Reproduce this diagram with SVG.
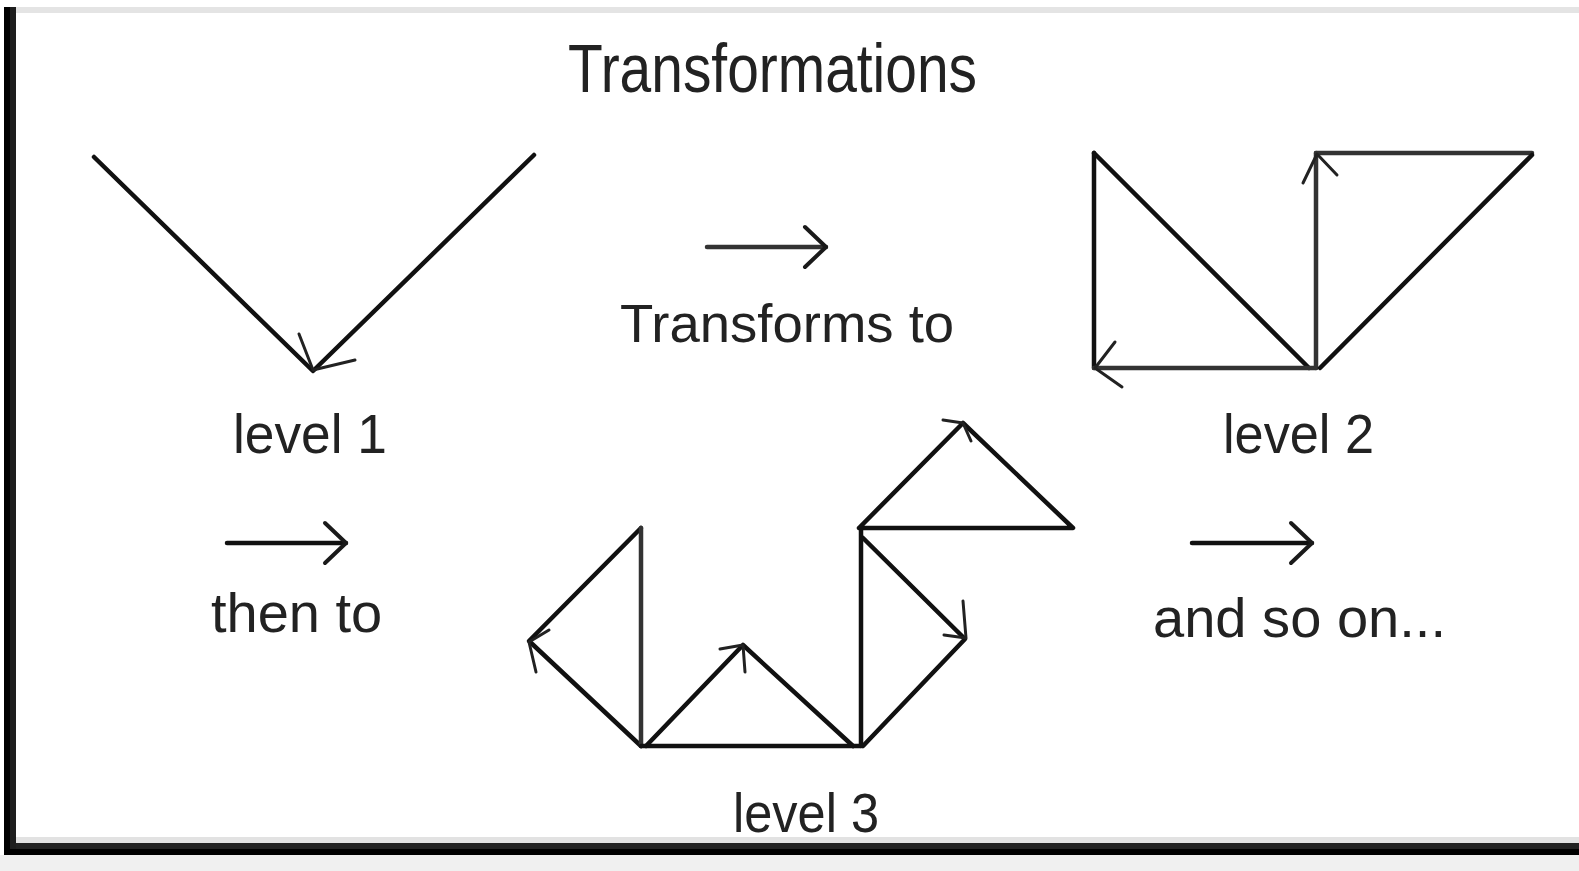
<svg xmlns="http://www.w3.org/2000/svg" width="1579" height="871" viewBox="0 0 1579 871">
  <style>
    .edge { fill: none; stroke: #111; stroke-width: 4.5; stroke-linecap: round; stroke-linejoin: round; }
    .soft { stroke: #333; }
    .head { fill: none; stroke: #222; stroke-width: 3; stroke-linecap: round; stroke-linejoin: round; }
    .label { font-family: "Liberation Sans", Arial, sans-serif; fill: #222; }
    .title { font-size: 68px; }
    .caption { font-size: 55px; }
  </style>
  <defs>
    <marker id="chevron" markerUnits="userSpaceOnUse" markerWidth="30" markerHeight="46" refX="24" refY="23" orient="auto" viewBox="0 0 30 46">
      <path d="M3,3 L24,23 L3,43" fill="none" stroke="#1a1a1a" stroke-width="4" stroke-linecap="round" stroke-linejoin="round"/>
    </marker>
  </defs>

  <!-- page and frame -->
  <g id="frame">
    <rect x="0" y="0" width="1579" height="871" fill="#ffffff"/>
    <rect x="0" y="855" width="1579" height="16" fill="#f0f0f0"/>
    <rect x="16" y="7" width="1563" height="6" fill="#e4e4e4"/>
    <rect x="16" y="837" width="1563" height="6" fill="#e2e2e2"/>
    <rect x="10" y="843" width="1569" height="6" fill="#222222"/>
    <rect x="4" y="849" width="1575" height="6" fill="#000000"/>
    <rect x="4" y="7" width="6" height="848" fill="#000000"/>
    <rect x="10" y="7" width="6" height="842" fill="#1e1e1e"/>
  </g>

  <g id="title">
    <text class="label title" x="568" y="92" textLength="409" lengthAdjust="spacingAndGlyphs">Transformations</text>
  </g>

  <!-- first level: a single V -->
  <g id="level-1">
    <path class="edge" d="M94,157 L313,371 L534,155"/>
    <path class="head" d="M299,334 L313,370 L355,360"/>
    <text class="label caption" x="233" y="453" textLength="154" lengthAdjust="spacingAndGlyphs">level 1</text>
  </g>

  <g id="transforms-to">
    <text class="label" x="620" y="342" font-size="54.5">Transforms to</text>
  </g>

  <!-- second level: two right triangles -->
  <g id="level-2">
    <path class="edge" d="M1094,153 L1309,368"/>
    <path class="edge" d="M1094,153 L1094,368"/>
    <path class="edge soft" d="M1316,368 L1094,368"/>
    <path class="edge soft" d="M1316,368 L1316,153"/>
    <path class="edge soft" d="M1316,153 L1532,153"/>
    <path class="edge" d="M1532,155 L1320,368"/>
    <path class="head" d="M1115,342 L1095,368 L1122,387"/>
    <path class="head" d="M1303,183 L1317,154 L1337,175"/>
    <text class="label caption" x="1223" y="453" textLength="151" lengthAdjust="spacingAndGlyphs">level 2</text>
  </g>

  <g id="then-to">
    <text class="label" x="211" y="632" font-size="56">then to</text>
  </g>

  <!-- third level: diamonds and triangles -->
  <g id="level-3">
    <path class="edge" d="M641,528 L529,641 L641,746"/>
    <path class="edge soft" d="M641,528 L641,746"/>
    <path class="edge" d="M646,746 L743,645 L853,746"/>
    <path class="edge" d="M641,746 L861,746"/>
    <path class="edge" d="M861,530 L861,746"/>
    <path class="edge" d="M863,746 L965,639 L863,538"/>
    <path class="edge" d="M859,528 L963,423 L1073,528 L859,528"/>
    <path class="head" d="M549,630 L529,642 L536,672"/>
    <path class="head" d="M720,649 L743,645 L745,672"/>
    <path class="head" d="M963,601 L966,638 L944,635"/>
    <path class="head" d="M943,420 L963,423 L971,441"/>
    <text class="label caption" x="733" y="832" textLength="146" lengthAdjust="spacingAndGlyphs">level 3</text>
  </g>

  <g id="and-so-on">
    <text class="label" x="1153" y="637" font-size="56" textLength="293" lengthAdjust="spacingAndGlyphs">and so on...</text>
  </g>

  <!-- arrows between the stages -->
  <g id="connectors">
    <line class="edge soft" x1="707" y1="247" x2="826" y2="247" marker-end="url(#chevron)"/>
    <line class="edge" x1="227" y1="543" x2="346" y2="543" marker-end="url(#chevron)"/>
    <line class="edge" x1="1192" y1="543" x2="1312" y2="543" marker-end="url(#chevron)"/>
  </g>
</svg>
